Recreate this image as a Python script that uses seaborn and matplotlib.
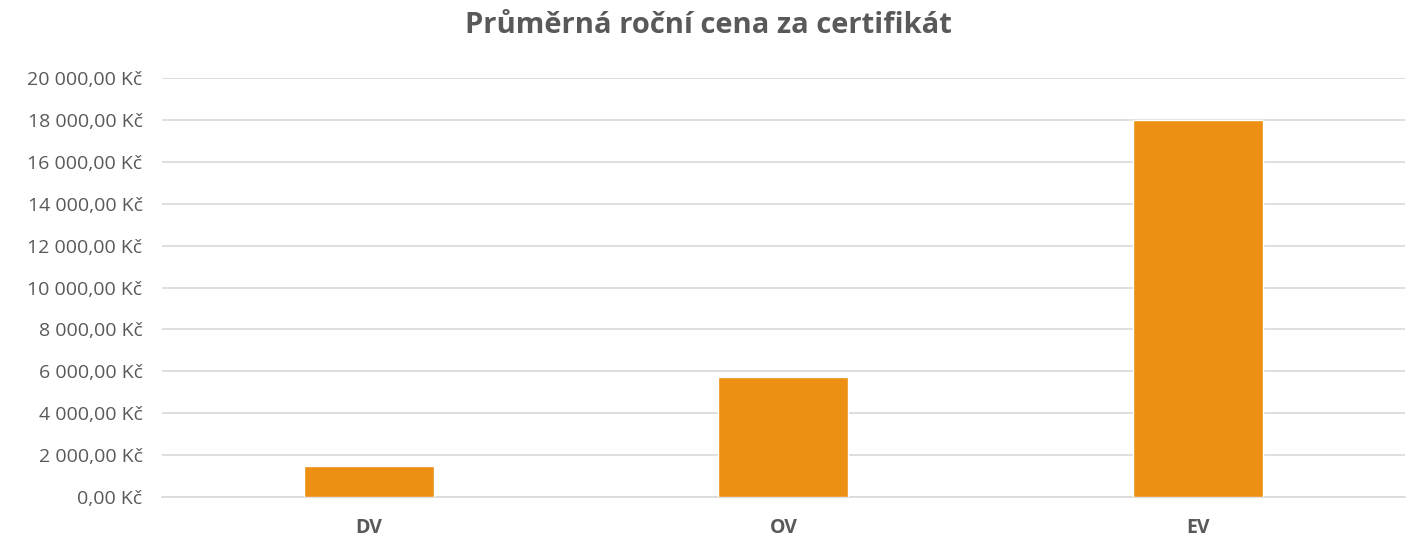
import seaborn as sns
import matplotlib.pyplot as plt
import matplotlib.ticker as mticker
import pandas as pd

# data
kategorie = ['DV', 'OV', 'EV']
cena = [1500, 5730, 18000]
titulek = 'Průměrná roční cena za certifikát'

df = pd.DataFrame({'kat': kategorie, 'cena': cena})

sns.set_style('white')
plt.rcParams['font.family'] = ['Open Sans', 'DejaVu Sans']

fig = plt.figure(figsize=(14.16, 5.39), dpi=100)
ax = fig.add_axes([0.1144, 0.0779, 0.8776, 0.7771])

sns.barplot(data=df, x='kat', y='cena', color='#EC8F12', width=0.314,
            saturation=1, ax=ax, zorder=3)

ax.set_ylim(0, 20000)
ax.set_xlim(-0.5, 2.5)
ax.yaxis.set_major_locator(mticker.MultipleLocator(2000))


def kc(v, pos):
    s = f'{v:,.2f}'.replace(',', ' ').replace('.', ',')
    return s + ' Kč'


ax.yaxis.set_major_formatter(mticker.FuncFormatter(kc))
ax.grid(axis='y', color='#D9D9D9', linewidth=1.2, zorder=0)
for s in ['top', 'right', 'left']:
    ax.spines[s].set_visible(False)
ax.spines['bottom'].set_color('#D9D9D9')
ax.spines['bottom'].set_linewidth(1.2)
ax.tick_params(axis='y', length=0, labelsize=14, labelcolor='#595959', pad=14)
ax.tick_params(axis='x', length=0, labelsize=14, labelcolor='#595959', pad=15)
for t in ax.get_xticklabels():
    t.set_fontweight('bold')
ax.set_xlabel('')
ax.set_ylabel('')

fig.text(0.5, 0.952, titulek, ha='center', va='center', fontsize=21,
         fontweight='bold', color='#595959')

fig.savefig('out.png', dpi=100)
